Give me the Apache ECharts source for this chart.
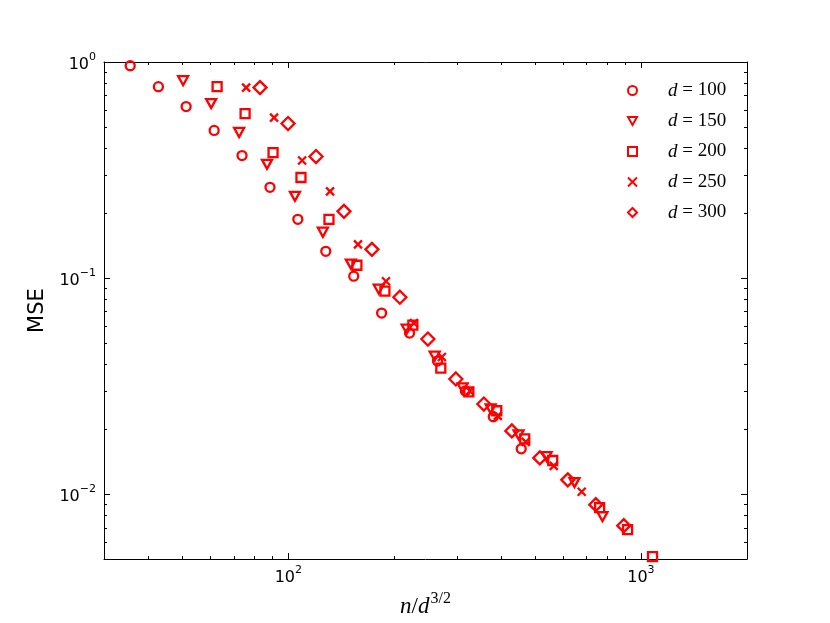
<!DOCTYPE html>
<html>
<head>
<meta charset="utf-8">
<script src="https://cdn.jsdelivr.net/npm/echarts@6/dist/echarts.min.js"></script>
<style>html,body{margin:0;padding:0;background:#fff;}#c{width:830px;height:623px;}</style>
</head>
<body>
<div id="c"></div>
<script>
// ---- data ----
const dValues = [100, 150, 200, 250, 300];

const d100X = [35.6, 42.8, 51.3, 61.6, 73.9, 88.7, 106.4, 127.7, 153.3, 183.9, 220.7, 264.9, 317.8, 381.4, 457.7];
const d100Y = [0.961, 0.769, 0.622, 0.482, 0.369, 0.263, 0.187, 0.133, 0.102, 0.0688, 0.0556, 0.0413, 0.0300, 0.0228, 0.0162];

const d150X = [50.3, 60.4, 72.5, 87.0, 104.4, 125.3, 150.4, 180.5, 216.7, 260.1, 312.2, 374.8, 449.9, 540.0, 648.2, 778.1];
const d150Y = [0.820, 0.642, 0.472, 0.336, 0.239, 0.163, 0.116, 0.0888, 0.0580, 0.0435, 0.0310, 0.0248, 0.0188, 0.0149, 0.0113, 0.00786];

const d200X = [62.8, 75.4, 90.5, 108.6, 130.4, 156.5, 187.9, 225.5, 270.7, 325.0, 390.1, 468.3, 562.2, 763.8, 916.8, 1079];
const d200Y = [0.769, 0.577, 0.381, 0.292, 0.187, 0.1146, 0.0869, 0.0605, 0.0383, 0.0297, 0.0243, 0.0180, 0.0143, 0.00865, 0.00684, 0.00513];

const d250X = [75.9, 91.1, 109.4, 131.3, 157.6, 189.2, 227.1, 272.6, 327.2, 392.8, 471.5, 566.0, 679.4];
const d250Y = [0.761, 0.553, 0.350, 0.252, 0.1432, 0.0966, 0.0618, 0.0431, 0.0300, 0.0230, 0.01744, 0.01351, 0.01025];

const d300X = [83.1, 99.8, 119.8, 143.8, 172.6, 207.2, 248.8, 298.7, 358.6, 430.5, 516.8, 620.4, 744.8, 894.2];
const d300Y = [0.761, 0.519, 0.365, 0.2035, 0.1358, 0.0815, 0.0522, 0.0341, 0.0261, 0.0196, 0.0147, 0.01164, 0.00893, 0.00714];

const xRange = [30, 2000];
const yRange = [0.005, 1];
const xMinorTicks = [40, 50, 60, 70, 80, 90, 200, 300, 400, 500, 600, 700, 800, 900];
const yMinorTicks = [0.006, 0.007, 0.008, 0.009, 0.02, 0.03, 0.04, 0.05, 0.06, 0.07, 0.08, 0.09, 0.2, 0.3, 0.4, 0.5, 0.6, 0.7, 0.8, 0.9];

// ---- styling ----
const RED = '#ff0000';
const SANS = 'DejaVu Sans';
const SERIF = 'Liberation Serif';
const names = dValues.map(d => 'd=' + d);
const xs = [d100X, d150X, d200X, d250X, d300X];
const ys = [d100Y, d150Y, d200Y, d250Y, d300Y];
const symbols = [
  {symbol: 'circle', size: 9, fill: 'transparent'},
  {symbol: 'path://M0,0L10,0L5,9Z', size: [10, 9], fill: 'transparent'},
  {symbol: 'rect', size: 9, fill: 'transparent'},
  {symbol: 'path://M0,0L10,10M10,0L0,10', size: 8, fill: RED},
  {symbol: 'diamond', size: 13, fill: 'transparent'}
];

const supRich = {
  b: {fontSize: 16, fontFamily: SANS, color: '#000', verticalAlign: 'bottom'},
  s: {fontSize: 11, fontFamily: SANS, color: '#000', verticalAlign: 'top', padding: [0, 0, 10, 0]}
};
function powLabel(v) {
  const e = Math.round(Math.log10(v));
  return '{b|10}{s|' + (e < 0 ? '\u2212' + (-e) : e) + '}';
}

const tickCommon = {show: true, inside: true, length: 6, lineStyle: {color: '#000', width: 1}};
const lineCommon = {show: true, lineStyle: {color: '#000', width: 1}};

const scatterSeries = names.map((n, i) => ({
  name: n,
  type: 'scatter',
  xAxisIndex: 0, yAxisIndex: 0,
  symbol: symbols[i].symbol,
  symbolSize: symbols[i].size,
  itemStyle: {color: symbols[i].fill, borderColor: RED, borderWidth: 2.3, opacity: 1},
  emphasis: {disabled: true},
  data: xs[i].map((x, k) => [x, ys[i][k]]),
  z: 3
}));

const minorX = {
  type: 'custom', silent: true, xAxisIndex: 0, yAxisIndex: 0, z: 5,
  data: xMinorTicks.map(v => [v, 0.5]),
  renderItem: function (params, api) {
    const cs = params.coordSys;
    const x = Math.round(api.coord([api.value(0), 0.5])[0]) + 0.5;
    const yb = cs.y + cs.height, yt = cs.y;
    return {type: 'group', children: [
      {type: 'line', shape: {x1: x, y1: yb, x2: x, y2: yb - 3}, style: {stroke: '#000', lineWidth: 1}},
      {type: 'line', shape: {x1: x, y1: yt, x2: x, y2: yt + 3}, style: {stroke: '#000', lineWidth: 1}}
    ]};
  }
};
const minorY = {
  type: 'custom', silent: true, xAxisIndex: 0, yAxisIndex: 0, z: 5,
  data: yMinorTicks.map(v => [100, v]),
  renderItem: function (params, api) {
    const cs = params.coordSys;
    const y = Math.round(api.coord([100, api.value(1)])[1]) + 0.5;
    const xl = cs.x, xr = cs.x + cs.width;
    return {type: 'group', children: [
      {type: 'line', shape: {x1: xl, y1: y, x2: xl + 3, y2: y}, style: {stroke: '#000', lineWidth: 1}},
      {type: 'line', shape: {x1: xr, y1: y, x2: xr - 3, y2: y}, style: {stroke: '#000', lineWidth: 1}}
    ]};
  }
};

const chart = echarts.init(document.getElementById('c'), null, {renderer: 'canvas'});
chart.setOption({
  backgroundColor: '#fff',
  animation: false,
  grid: {left: 104, right: 83, top: 62, bottom: 63, containLabel: false},
  legend: {
    data: names,
    orient: 'vertical',
    left: 622, top: 76,
    itemWidth: 9, itemHeight: 9, itemGap: 11.5,
    selectedMode: false,
    formatter: function (name) { return '{i|d}{r| = ' + name.slice(2) + '}'; },
    textStyle: {
      color: '#000',
      rich: {
        i: {fontFamily: SERIF, fontStyle: 'italic', fontSize: 19, color: '#000', padding: [0, 0, 0, 26], lineHeight: 20.5},
        r: {fontFamily: SERIF, fontSize: 19, color: '#000', lineHeight: 20.5}
      }
    }
  },
  xAxis: [{
    type: 'log', logBase: 10, min: xRange[0], max: xRange[1], position: 'bottom',
    axisLine: lineCommon, axisTick: tickCommon, splitLine: {show: false}, minorTick: {show: false},
    axisLabel: {show: true, margin: 6, showMinLabel: false, showMaxLabel: false, formatter: powLabel, rich: supRich},
    name: '{i|n}{r|/}{i|d}{s|3/2}',
    nameLocation: 'middle', nameGap: 27,
    nameTextStyle: {rich: {
      i: {fontFamily: SERIF, fontStyle: 'italic', fontSize: 23, color: '#000', verticalAlign: 'bottom'},
      r: {fontFamily: SERIF, fontSize: 23, color: '#000', verticalAlign: 'bottom'},
      s: {fontFamily: SERIF, fontSize: 16, color: '#000', verticalAlign: 'top', padding: [0, 0, 11, 1]}
    }}
  }, {
    type: 'log', logBase: 10, min: xRange[0], max: xRange[1], position: 'top',
    axisLine: lineCommon, axisTick: tickCommon, splitLine: {show: false}, axisLabel: {show: false}
  }],
  yAxis: [{
    type: 'log', logBase: 10, min: yRange[0], max: yRange[1], position: 'left',
    axisLine: lineCommon, axisTick: tickCommon, splitLine: {show: false}, minorTick: {show: false},
    axisLabel: {show: true, margin: 8, showMinLabel: false, showMaxLabel: true, formatter: powLabel, rich: supRich},
    name: 'MSE', nameLocation: 'middle', nameGap: 56,
    nameTextStyle: {fontFamily: SANS, fontSize: 21, color: '#000'}
  }, {
    type: 'log', logBase: 10, min: yRange[0], max: yRange[1], position: 'right',
    axisLine: lineCommon, axisTick: tickCommon, splitLine: {show: false}, axisLabel: {show: false}
  }],
  series: scatterSeries.concat([minorX, minorY])
});
</script>
</body>
</html>
